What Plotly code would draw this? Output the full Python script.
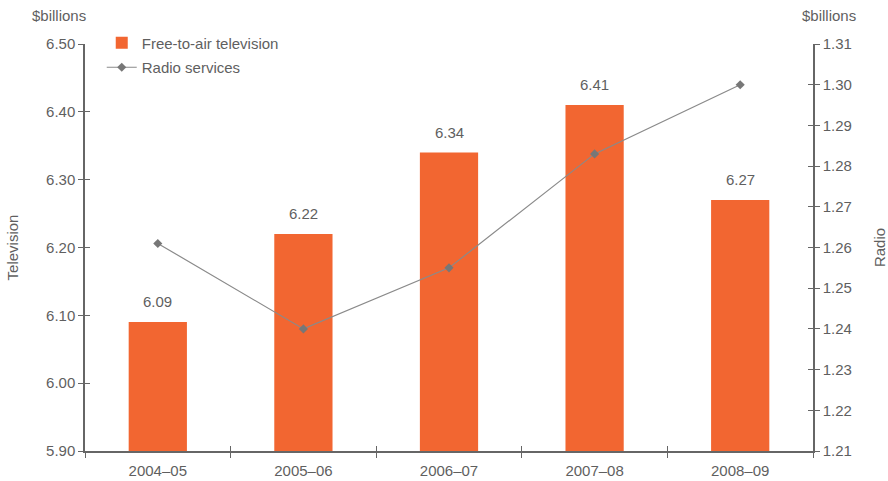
import plotly.graph_objects as go

# Commercial broadcasting revenue, $billions
years = ["2004–05", "2005–06", "2006–07", "2007–08", "2008–09"]
television = [6.09, 6.22, 6.34, 6.41, 6.27]
radio = [1.261, 1.240, 1.255, 1.283, 1.300]

tv_ticks = [5.90, 6.00, 6.10, 6.20, 6.30, 6.40, 6.50]
radio_ticks = [1.21, 1.22, 1.23, 1.24, 1.25, 1.26, 1.27, 1.28, 1.29, 1.30, 1.31]

BAR = "#F26631"
AXIS = "#666666"
TEXT = "#5f5f5f"
FONT = "Liberation Sans"
FS = 15

fig = go.Figure()

fig.add_trace(go.Bar(
    x=years, y=television, name="Free-to-air television",
    marker=dict(color=BAR, line=dict(width=0)), width=0.4,
    xaxis="x", yaxis="y", legendgroup="tv",
))

fig.add_trace(go.Scatter(
    x=years, y=radio, name="Radio services", mode="lines+markers",
    line=dict(color="#8a8a8a", width=1.2),
    marker=dict(symbol="diamond", size=7, color="#777777"),
    xaxis="x", yaxis="y2", legendgroup="radio",
))

# value labels above each bar
for yr, v in zip(years, television):
    fig.add_annotation(x=yr, y=v, xref="x", yref="y", text=f"{v:.2f}",
                       showarrow=False, yanchor="bottom", yshift=10,
                       font=dict(size=FS, color=TEXT, family=FONT))

axis_common = dict(showgrid=False, zeroline=False, showline=True,
                   linecolor=AXIS, linewidth=1.5, tickcolor=AXIS,
                   tickwidth=1.3, ticklen=5, automargin=False)

fig.update_layout(
    width=888, height=481,
    margin=dict(l=85, r=75, t=44, b=30, autoexpand=False),
    plot_bgcolor="white", paper_bgcolor="white",
    font=dict(family=FONT, size=FS, color=TEXT),
    bargap=0.6,
    showlegend=True,
    legend=dict(x=0.023, y=1.043, xanchor="left", yanchor="top",
                traceorder="grouped", tracegroupgap=2,
                bgcolor="rgba(0,0,0,0)", font=dict(size=FS, color=TEXT),
                itemwidth=30),
    xaxis=dict(**axis_common, type="category", ticks="outside",
               tickson="boundaries", range=[-0.5, 4.5], ticklabelstandoff=5,
               tickfont=dict(size=FS, color=TEXT)),
    # inner half of the crossing tick marks
    xaxis2=dict(overlaying="x", type="category", ticks="inside",
                tickson="boundaries", range=[-0.5, 4.5], showline=False,
                showgrid=False, showticklabels=False, tickcolor=AXIS,
                tickwidth=1.3, ticklen=5, side="bottom", matches="x"),
    yaxis=dict(**axis_common, ticks="outside", range=[5.90, 6.50],
               tickvals=tv_ticks, ticktext=[f"{t:.2f}" for t in tv_ticks],
               title=dict(text="Television", standoff=24,
                          font=dict(size=FS, color=TEXT)),
               tickfont=dict(size=FS, color=TEXT)),
    yaxis2=dict(**axis_common, ticks="outside", overlaying="y", side="right",
                range=[1.21, 1.31], tickvals=radio_ticks,
                ticktext=[f"{t:.2f}" for t in radio_ticks],
                title=dict(text="Radio", standoff=26,
                           font=dict(size=FS, color=TEXT)),
                tickfont=dict(size=FS, color=TEXT)),
    yaxis3=dict(overlaying="y", side="left", range=[5.90, 6.50],
                tickvals=tv_ticks, ticks="inside", showticklabels=False,
                showgrid=False, zeroline=False, showline=False,
                tickcolor=AXIS, tickwidth=1.3, ticklen=5),
    yaxis4=dict(overlaying="y", side="right", range=[1.21, 1.31],
                tickvals=radio_ticks, ticks="inside", showticklabels=False,
                showgrid=False, zeroline=False, showline=False,
                tickcolor=AXIS, tickwidth=1.3, ticklen=5),
)

# invisible carriers so the extra tick axes get drawn
fig.add_trace(go.Scatter(x=[years[0]], y=[tv_ticks[0]], xaxis="x2", yaxis="y3",
                         mode="markers", marker=dict(opacity=0),
                         showlegend=False, hoverinfo="skip"))
fig.add_trace(go.Scatter(x=[years[0]], y=[radio_ticks[0]], xaxis="x2", yaxis="y4",
                         mode="markers", marker=dict(opacity=0),
                         showlegend=False, hoverinfo="skip"))

# unit captions above both value axes
fig.add_annotation(x=-0.036, y=1.0, xref="paper", yref="paper", yshift=29,
                   text="$billions", showarrow=False, xanchor="center",
                   yanchor="middle", font=dict(size=FS, color=TEXT))
fig.add_annotation(x=1.022, y=1.0, xref="paper", yref="paper", yshift=29,
                   text="$billions", showarrow=False, xanchor="center",
                   yanchor="middle", font=dict(size=FS, color=TEXT))

fig.write_html("out.html")
